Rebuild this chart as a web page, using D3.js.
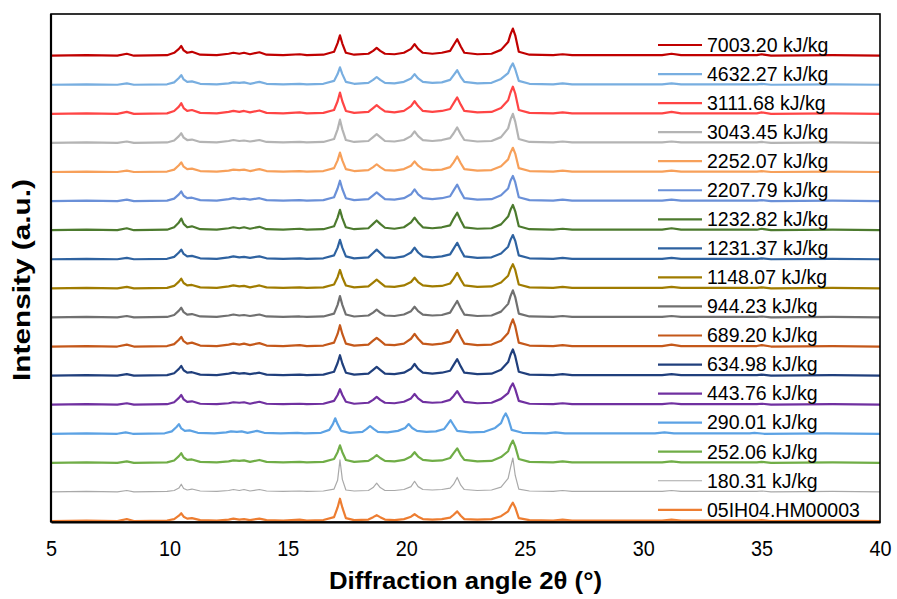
<!DOCTYPE html>
<html>
<head>
<meta charset="utf-8">
<script src="https://cdn.jsdelivr.net/npm/d3@7"></script>
<style>
  html, body { margin: 0; padding: 0; background: #fff; }
  svg { display: block; font-family: "Liberation Sans", Arial, sans-serif; }
</style>
</head>
<body>
<div id="chart"></div>
<script>
// 2θ grid shared by most scans (degrees)
twoTheta = [5.0, 6.5, 7.8, 8.2, 8.5, 9.9, 10.2, 10.4, 10.5, 10.6, 10.75, 10.95, 11.3, 12.0, 12.5, 12.7, 12.95, 13.15, 13.4, 13.8,
    14.1, 14.8, 15.5, 15.8, 16.5, 16.95, 17.1, 17.2, 17.3, 17.45, 17.8, 18.4, 18.6, 18.75, 18.9, 19.1, 19.5, 19.9, 20.2, 20.35,
    20.5, 20.7, 21.1, 21.5, 21.85, 22.0, 22.15, 22.3, 22.45, 23.0, 23.6, 24.0, 24.3, 24.4, 24.5, 24.6, 24.75, 25.2, 26.2, 26.6,
    27.0, 28.5, 30.8, 31.2, 31.6, 34.8, 35.0, 35.4, 38.0, 40.0];

// the 290.01 kJ/kg scan sits at lower angles
twoTheta290 = [5.0, 6.5, 7.8, 8.15, 8.45, 9.8, 10.1, 10.3, 10.4, 10.5, 10.65, 10.85, 11.2, 11.9, 12.4, 12.6, 12.85, 13.05, 13.3, 13.7,
    14.0, 14.7, 15.4, 15.7, 16.4, 16.75, 16.9, 17.0, 17.1, 17.25, 17.6, 18.15, 18.33, 18.47, 18.62, 18.8, 19.2, 19.65, 19.95, 20.1,
    20.25, 20.45, 20.85, 21.25, 21.6, 21.72, 21.87, 22.02, 22.15, 22.7, 23.3, 23.75, 24.0, 24.1, 24.2, 24.3, 24.45, 24.9, 25.9, 26.3,
    26.7, 28.2, 30.5, 30.9, 31.3, 34.5, 34.7, 35.1, 37.7, 40.0];

labels = ["7003.20 kJ/kg", "4632.27 kJ/kg", "3111.68 kJ/kg", "3043.45 kJ/kg", "2252.07 kJ/kg", "2207.79 kJ/kg",
    "1232.82 kJ/kg", "1231.37 kJ/kg", "1148.07 kJ/kg", "944.23 kJ/kg", "689.20 kJ/kg", "634.98 kJ/kg",
    "443.76 kJ/kg", "290.01 kJ/kg", "252.06 kJ/kg", "180.31 kJ/kg", "05IH04.HM00003"];

colors = ["#c00000", "#78aee0", "#ff4545", "#b4b4b4", "#f7a05a", "#6a90d8", "#4c7a2e", "#2e62a0", "#a07c00",
    "#707070", "#c4581a", "#203f7c", "#7030a0", "#5ca2e4", "#70ad47", "#a9a9a9", "#ed7d31"];

// intensities (a.u.), above its own baseline
i7003 = [0,0.5,0,2,0,0.5,3, 7,10,5.5, 3,4,1,0.5,2,3,2,3,1.5,3.5,1,0.5,1.5,0.5,1,4, 13,21,12.5, 3,1,2, 5,8,5, 2,1.5,3, 7,12,7, 3,2,3,5, 11,17,9.5, 3,1.5,2,6,14, 22,28,21, 4,1, 0.5,1.5,0.5,0.5,0.5,2,0.5,0.5,1.5,0,0.5,0];
i4632 = [0,0.5,0,1.5,0,0.5,2.5, 7,10,5.5, 3,3.5,1,0.5,1.5,2.5,2,2.5,1,3,1,0.5,1,0.5,1,4, 11,18,11, 3,1,2, 5,8,5, 2,1.5,3, 6.5,11,6.5, 3,2,2.5,5, 10,15,8, 3,1.5,2,6,12, 18,22,16, 4,1, 0.5,1.5,0.5,0.5,0.5,1.5,0.5,0.5,1,0,0.5,0];
i3111 = [0,0.5,0,2,0,0.5,3, 7.5,11,6, 3,4,1,0.5,2,3,2,3,1.5,3.5,1,0.5,1.5,0.5,1,4, 13,22,13, 3,1,2, 6,9,6, 2.5,1.5,3, 8,13,8, 3,2,3,5, 11,17,9.5, 3,1.5,2,6,14, 22,28,21, 4,1, 0.5,1.5,0.5,0.5,0.5,2,0.5,0.5,1.5,0,0.5,0];
i3043 = [0,0.5,0,1.5,0,0.5,2.5, 7,10,5.5, 3,3.5,1,0.5,2,3,2,2.5,1.5,3,1,0.5,1,0.5,1,4, 14,24,14, 3,1,2, 6,9,6, 2,1.5,3, 7,12,7, 3,2,3,5, 10,16,9, 3,1.5,2,6,15, 24,30,22, 4,1, 0.5,1.5,0.5,0.5,0.5,1.5,0.5,0.5,1,0,0.5,0];
i2252 = [0,0.5,0,1.5,0,0.5,2.5, 7,10,5.5, 3,3.5,1,0.5,1.5,2.5,2,2.5,1,3,1,0.5,1,0.5,1,4, 12,20,12, 3,1,2, 5,8,5, 2,1.5,3, 6.5,11,6.5, 3,2,2.5,5, 10,16,9, 3,1.5,2,6,13, 20,25,19, 4,1, 0.5,1.5,0.5,0.5,0.5,1.5,0.5,0.5,1,0,0.5,0];
i2207 = [0,0.5,0,1.5,0,0.5,2.5, 7,10,5.5, 3,3.5,1,0.5,2,3,2,2.5,1.5,3,1,0.5,1,0.5,1,4, 13,21,12.5, 3,1,2, 6,9,6, 2,1.5,3, 7,12,7, 3,2,3,5, 11,17,9.5, 3,1.5,2,6,13, 21,26,19.5, 4,1, 0.5,1.5,0.5,0.5,0.5,1.5,0.5,0.5,1,0,0.5,0];
i1232 = [0,0.5,0,2,0,0.5,3, 8,12,6.5, 3,4,1,0.5,2,3,2,3,1.5,3.5,1,0.5,1.5,0.5,1,4, 13,21,12.5, 3,1,2, 6.5,10,6.5, 2.5,1.5,3, 8,13,8, 3,2,3,5, 12,18,10, 3,1.5,2,6,14, 21,26,19.5, 4,1, 0.5,1.5,0.5,0.5,0.5,2,0.5,0.5,1.5,0,0.5,0];
i1231 = [0,0.5,0,1.5,0,0.5,2.5, 7,10,5.5, 3,3.5,1,0.5,2,3,2,2.5,1.5,3,1,0.5,1,0.5,1,4, 12,20,12, 3,1,2, 6.5,10,6.5, 2,1.5,3, 7,12,7, 3,2,3,5, 11,17,9.5, 3,1.5,2,6,13, 20,25,19, 4,1, 0.5,1.5,0.5,0.5,0.5,1.5,0.5,0.5,1,0,0.5,0];
i1148 = [0,0.5,0,1.5,0,0.5,2.5, 7,10,5.5, 3,3.5,1,0.5,2,3,2,2.5,1,3,1,0.5,1,0.5,1,4, 11.5,19,11.5, 3,1,2, 6,9,6, 2,1.5,3, 6.5,11,6.5, 3,2,2.5,5, 10,16,9, 3,1.5,2,6,13, 20,25,19, 4,1, 0.5,1.5,0.5,0.5,0.5,1.5,0.5,0.5,1,0,0.5,0];
i944 = [0,0.5,0,1.5,0,0.5,2.5, 7,10,5.5, 3,3.5,1,0.5,2,3,2,2.5,1.5,3,1,0.5,1,0.5,1,4, 13,22,13, 3,1,2, 5,8,5, 2,1.5,3, 6.5,11,6.5, 3,2,2.5,5, 11,17,9.5, 3,1.5,2,6,14, 22,28,21, 4,1, 0.5,1.5,0.5,0.5,0.5,1.5,0.5,0.5,1,0,0.5,0];
i689 = [0,0.5,0,2,0,0.5,2.5, 7,10,5.5, 3,4,1,0.5,2,3,2,3,1.5,3.5,1,0.5,1.5,0.5,1,4, 13,22,13, 3,1,2, 6,9,6, 2,1.5,3, 8,13,8, 3,2,3,5, 11,17,9.5, 3,1.5,2,6,14, 22,28,21, 4,1, 0.5,1.5,0.5,0.5,0.5,2,0.5,0.5,1.5,0,0.5,0];
i634 = [0,0.5,0,1.5,0,0.5,2.5, 7,10,5.5, 3,3.5,1,0.5,2,3,2,2.5,1.5,3,1,0.5,1,0.5,1,4, 13,21,12.5, 3,1,2, 6,9,6, 2,1.5,3, 7,12,7, 3,2,3,5, 11,17,9.5, 3,1.5,2,6,14, 21.5,27,20, 4,1, 0.5,1.5,0.5,0.5,0.5,1.5,0.5,0.5,1,0,0.5,0];
i443 = [0,0.5,0,1.5,0,0.5,2.5, 7,10,5.5, 3,3.5,1,0.5,1.5,2.5,2,2.5,1,3,1,0.5,1,0.5,1,4, 10,16,10, 3,1,2, 5,8,5, 2,1.5,3, 6.5,11,6.5, 3,2,2.5,5, 9,14,8, 3,1.5,2,6,12, 18,22,16, 4,1, 0.5,1.5,0.5,0.5,0.5,1.5,0.5,0.5,1,0,0.5,0];
i290 = [0,0.5,0,1.5,0,0.5,2.5, 7,10,5.5, 3,3.5,1,0.5,1.5,2.5,2,2.5,1,3,1,0.5,1,0.5,1,4, 10,16,10, 3,1,2, 5,8,5, 2,1.5,3, 6,10,6, 3,2,2.5,5, 9,14,8, 3,1.5,2,6,11, 17,21,16, 4,1, 0.5,1.5,0.5,0.5,0.5,1.5,0.5,0.5,1,0,0.5,0];
i252 = [0,0.5,0,1.5,0,0.5,2.5, 7,10,5.5, 3,3.5,1,0.5,1.5,2.5,2,2.5,1,3,1,0.5,1,0.5,1,4, 11,18,11, 3,1,2, 5,8,5, 2,1.5,3, 6.5,11,6.5, 3,2,2.5,5, 10,15,8, 3,1.5,2,6,12, 18.5,23,17, 4,1, 0.5,1.5,0.5,0.5,0.5,1.5,0.5,0.5,1,0,0.5,0];
i180 = [0,0.5,0,1.5,0,0.5,1.5, 4,8,3.5, 2,3,1,0.5,1.5,2.5,1.5,2.5,1,2.5,1,0.5,1,0.5,1,3, 12,33,13, 2,1,1.5, 4.5,9,4.5, 1.5,1.5,2.5, 5.5,11,5.5, 2.5,2,2.5,4, 8,15,7, 2.5,1.5,2,5,14, 25,35,17, 3,1, 0.5,1.5,0.5,0.5,0.5,1.5,0.5,0.5,1,0,0.5,0];
i05IH04 = [0,0.5,0,2,0,0.5,2, 5.5,8,4.5, 2.5,3,1,0.5,1.5,2.5,1.5,2,1,2.5,1,0.5,1.5,0.5,1,4, 14,23,14, 3,1,1.5, 4,6,4, 1.5,1,2, 4.5,7,4.5, 2,1.5,2,3.5, 6.5,10,5.5, 2,1.5,2,5,10, 15,19,14, 3,1, 0.5,1.5,0.5,0.5,0.5,1.5,0.5,0.5,1,0,0.5,0];

xTicks = [5, 10, 15, 20, 25, 30, 35, 40];

const intensities = [i7003, i4632, i3111, i3043, i2252, i2207, i1232, i1231, i1148, i944, i689, i634, i443, i290, i252, i180, i05IH04];
const grids = labels.map(l => l.startsWith("290.01") ? twoTheta290 : twoTheta);
const step = 30; // vertical offset between stacked scans, a.u.

const width = 897, height = 599;
const margins = { top: 14, right: 17, bottom: 77, left: 51 };

const svg = d3.select("#chart").append("svg")
    .attr("width", width)
    .attr("height", height);

const x = d3.scaleLinear().domain([5, 40]).range([margins.left, width - margins.right]);
const y = d3.scaleLinear().domain([-1, 523]).range([height - margins.bottom, margins.top]);

svg.append("clipPath").attr("id", "plot")
    .append("rect")
    .attr("x", margins.left).attr("y", margins.top)
    .attr("width", width - margins.left - margins.right)
    .attr("height", height - margins.top - margins.bottom);

const n = labels.length;
const series = labels.map((label, i) => ({
    label: label,
    color: colors[i],
    thin: label.startsWith("180.31"),
    offset: (n - 1 - i) * step,
    points: grids[i].map((t, j) => [t, intensities[i][j]])
}));

const line = d3.line()
    .x(d => x(d[0]))
    .y(d => y(d[1]));

svg.append("g")
    .attr("clip-path", "url(#plot)")
    .selectAll("path")
    .data(series)
    .join("path")
    .attr("fill", "none")
    .attr("stroke", d => d.color)
    .attr("stroke-width", d => d.thin ? 1.2 : 2.2)
    .attr("stroke-linejoin", "round")
    .attr("d", d => line(d.points.map(p => [p[0], p[1] + d.offset])));

// frame
svg.append("rect")
    .attr("x", margins.left).attr("y", margins.top)
    .attr("width", width - margins.left - margins.right)
    .attr("height", height - margins.top - margins.bottom)
    .attr("fill", "none")
    .attr("stroke", "#000")
    .attr("stroke-width", 1.6);

// x axis
const gx = svg.append("g")
    .attr("transform", `translate(0,${height - margins.bottom})`)
    .call(d3.axisBottom(x).tickValues(xTicks).tickSize(0).tickPadding(18))
    .call(g => g.select(".domain").attr("stroke", "#000").attr("stroke-width", 2.2));
gx.selectAll("text")
    .attr("fill", "#000")
    .style("font-size", "22px")
    .attr("textLength", function () { return this.getComputedTextLength() * 0.9; })
    .attr("lengthAdjust", "spacingAndGlyphs");

svg.append("line")
    .attr("x1", margins.left).attr("x2", margins.left)
    .attr("y1", margins.top).attr("y2", height - margins.bottom)
    .attr("stroke", "#000").attr("stroke-width", 2.2);

svg.append("text")
    .attr("x", x(22.5))
    .attr("y", 589)
    .attr("text-anchor", "middle")
    .style("font-size", "24px")
    .style("font-weight", "bold")
    .attr("textLength", 273)
    .attr("lengthAdjust", "spacingAndGlyphs")
    .text("Diffraction angle 2θ (°)");

svg.append("text")
    .attr("transform", `translate(30,${(margins.top + height - margins.bottom) / 2 + 12}) rotate(-90)`)
    .attr("text-anchor", "middle")
    .style("font-size", "23px")
    .style("font-weight", "bold")
    .attr("textLength", 202)
    .attr("lengthAdjust", "spacingAndGlyphs")
    .text("Intensity (a.u.)");

// legend
const legend = svg.append("g")
    .selectAll("g")
    .data(series)
    .join("g")
    .attr("transform", (d, i) => `translate(658,${45 + i * 29.05})`);

legend.append("line")
    .attr("x1", 0).attr("x2", 44)
    .attr("stroke", d => d.color)
    .attr("stroke-width", d => d.thin ? 1.2 : 2.2);

legend.append("text")
    .attr("x", 49)
    .attr("dy", "0.35em")
    .style("font-size", "19.5px")
    .attr("fill", "#000")
    .text(d => d.label);
</script>
</body>
</html>
